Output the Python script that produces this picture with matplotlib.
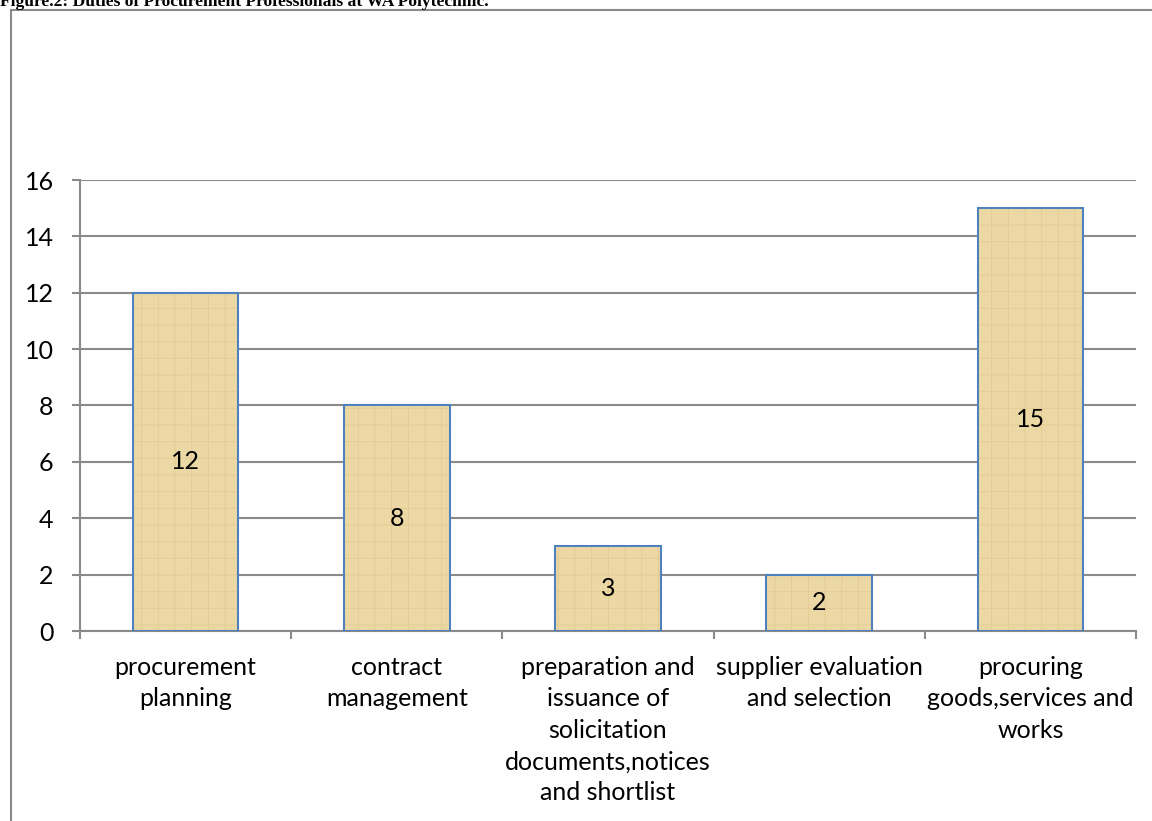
import matplotlib
matplotlib.use("Agg")
import matplotlib.pyplot as plt
from matplotlib.lines import Line2D

categories = [
    "procurement\nplanning",
    "contract\nmanagement",
    "preparation and\nissuance of\nsolicitation\ndocuments,notices\nand shortlist",
    "supplier evaluation\nand selection",
    "procuring\ngoods,services and\nworks",
]
values = [12, 8, 3, 2, 15]
yticks = [0, 2, 4, 6, 8, 10, 12, 14, 16]
title = "Figure.2: Duties of Procurement Professionals at WA Polytechnic."

W, H = 1152, 821
fig = plt.figure(figsize=(W / 100, H / 100), dpi=100)
font = "Lato"
fs = 18

plt.rcParams["hatch.linewidth"] = 0.6

# outer frame (top and left borders)
gray = "#8a8a8a"
fig.add_artist(Line2D([11 / W, 11 / W], [0, 1 - 10 / H], color=gray, lw=1.5, transform=fig.transFigure))
fig.add_artist(Line2D([11 / W, 1], [1 - 10 / H, 1 - 10 / H], color=gray, lw=1.5, transform=fig.transFigure))

fig.text(0.0, 1 - 6 / H, title, family="Liberation Serif", weight="bold", fontsize=12.6,
         ha="left", va="baseline")

ax = fig.add_axes([80 / W, 1 - 631 / H, (1136 - 80) / W, (631 - 180) / H])
x = list(range(len(categories)))
ax.bar(x, values, width=0.5, color="#ECD8A4", linewidth=0, zorder=3)
ax.bar(x, values, width=0.5, color="none", edgecolor="#E2CA93", hatch="+", linewidth=0, zorder=3.5)
ax.bar(x, values, width=0.5, color="none", edgecolor="#4F81BD", linewidth=1.5, zorder=4)
for xi, v in zip(x, values):
    ax.text(xi, v / 2, str(v), ha="center", va="center", family=font, fontsize=fs, zorder=5)

ax.set_xlim(-0.5, len(categories) - 0.5)
ax.set_ylim(0, 16)
ax.set_yticks(yticks)
ax.set_yticklabels([str(t) for t in yticks], family=font, fontsize=fs)
ax.yaxis.grid(True, color=gray, lw=1.5, zorder=0)
ax.set_axisbelow(True)

ax.set_xticks([i - 0.5 for i in range(len(categories) + 1)])
ax.set_xticklabels([])
ax.set_xticks(x, minor=True)
ax.set_xticklabels(categories, minor=True, family=font, fontsize=fs, linespacing=1.44)
ax.tick_params(axis="x", which="minor", length=0, pad=18)
ax.tick_params(axis="x", which="major", length=6, width=1.5, color=gray)
ax.tick_params(axis="y", length=6, width=1.5, color=gray, pad=13)

for s in ["top", "right"]:
    ax.spines[s].set_visible(False)
for s in ["left", "bottom"]:
    ax.spines[s].set_color(gray)
    ax.spines[s].set_linewidth(1.5)

fig.savefig("out.png", dpi=100)
